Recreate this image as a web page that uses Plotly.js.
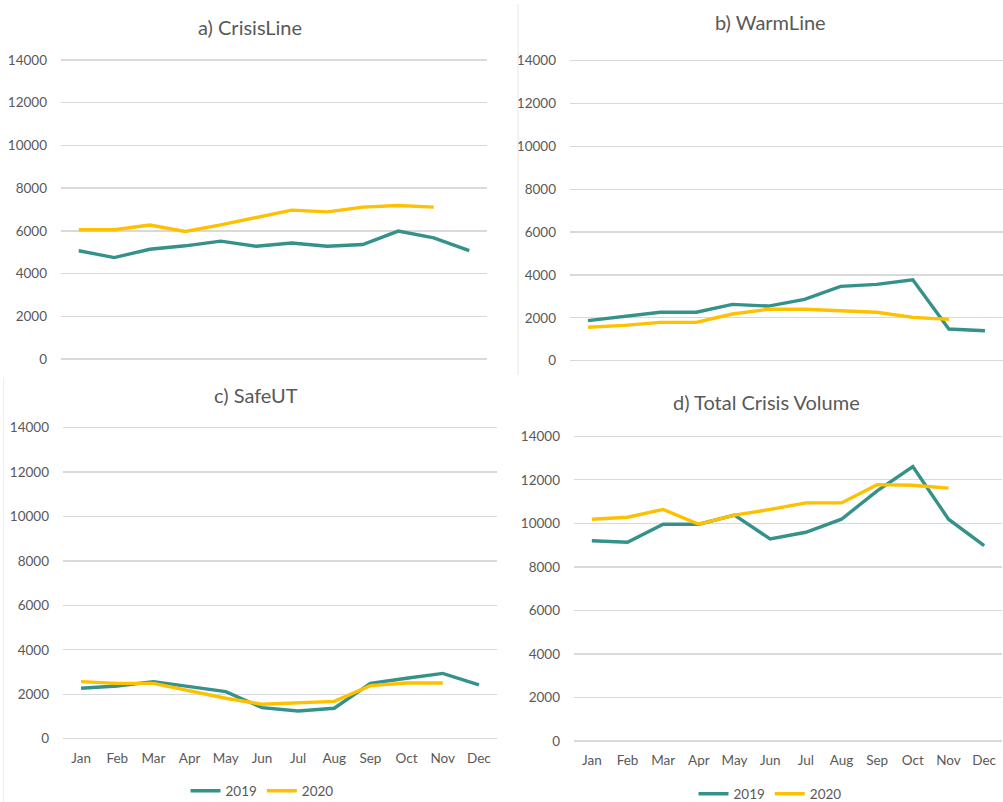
<!DOCTYPE html>
<html>
<head>
<meta charset="utf-8">
<script src="https://cdn.plot.ly/plotly-3.0.1.min.js"></script>
<style>html,body{margin:0;padding:0;background:#fff;}#chart{width:1003px;height:802px;}</style>
</head>
<body>
<div id="chart"></div>
<script>
const months = ["Jan","Feb","Mar","Apr","May","Jun","Jul","Aug","Sep","Oct","Nov","Dec"];
const seriesNames = ["2019","2020"];
const panelTitles = ["a) CrisisLine","b) WarmLine","c) SafeUT","d) Total Crisis Volume"];

const crisis2019 = [5070,4750,5140,5300,5520,5280,5430,5280,5360,5990,5670,5070];
const crisis2020 = [6050,6050,6270,5970,6280,6640,6970,6890,7110,7190,7110];

const warm2019 = [1870,2050,2260,2260,2630,2550,2860,3470,3560,3780,1480,1400];
const warm2020 = [1560,1650,1790,1790,2180,2400,2400,2320,2260,2020,1930];

const safe2019 = [2270,2370,2570,2340,2120,1400,1250,1370,2490,2720,2940,2420];
const safe2020 = [2570,2490,2490,2150,1820,1550,1610,1680,2390,2510,2510];

const total2019 = [9200,9130,9960,9960,10380,9280,9590,10190,11490,12610,10190,8980];
const total2020 = [10190,10280,10640,9960,10380,10640,10940,10940,11780,11750,11620];

const yTicks = [0,2000,4000,6000,8000,10000,12000,14000];

const C19 = "#35928B", C20 = "#FFC000", TXT = "#595959", GRID = "#D9D9D9";
const W = 1003, H = 802;
const FONT = "Lato, 'Open Sans', sans-serif";
const YMAX = 14000, PADV = 80;

const panels = [
  {s19: crisis2019, s20: crisis2020, px:[61,487], py:[60,359], labels:false, legend:null},
  {s19: warm2019, s20: warm2020, px:[570,1005], py:[60.7,360.7], labels:false, legend:null},
  {s19: safe2019, s20: safe2020, px:[63,497], py:[427.7,738.7], labels:true, legend:"legend"},
  {s19: total2019, s20: total2020, px:[574,1002], py:[436.3,741], labels:true, legend:"legend2"}
];

const data = [];
const layout = {
  width: W, height: H,
  margin: {l:0, r:0, t:0, b:0, autoexpand:false},
  paper_bgcolor: "#fff", plot_bgcolor: "#fff",
  font: {family: FONT, color: TXT, size: 13.5},
  annotations: [], shapes: [],
  showlegend: true
};

panels.forEach((p, i) => {
  const n = i === 0 ? "" : String(i+1);
  const xa = "x" + n, ya = "y" + n;
  [ [p.s19, C19, seriesNames[0]], [p.s20, C20, seriesNames[1]] ].forEach(([vals, col, nm]) => {
    const tr = {
      type: "scatter", mode: "lines",
      x: months.slice(0, vals.length), y: vals,
      name: nm, xaxis: xa, yaxis: ya,
      line: {color: col, width: 3.4},
      hoverinfo: "skip",
      showlegend: !!p.legend
    };
    if (p.legend) tr.legend = p.legend;
    data.push(tr);
  });
  const x0 = Math.max(0, p.px[0]/W), x1 = Math.min(1, p.px[1]/W);
  const pad = PADV * (p.py[1] - p.py[0]) / YMAX;
  const top = p.py[0] - pad, bot = p.py[1] + pad;
  layout["xaxis" + n] = {
    domain: [x0, x1], anchor: ya,
    type: "category", categoryorder: "array", categoryarray: months,
    range: [-0.5, 11.5],
    showgrid: false, zeroline: false, showline: false,
    showticklabels: p.labels, ticks: "",
    ticklabelstandoff: 8,
    tickfont: {family: FONT, color: TXT, size: 13.5},
    fixedrange: true
  };
  layout["yaxis" + n] = {
    domain: [1 - bot/H, 1 - top/H], anchor: xa,
    range: [-PADV, YMAX + PADV],
    tickvals: yTicks, ticktext: yTicks.map(String),
    showgrid: true, gridcolor: GRID, gridwidth: 1.3,
    zeroline: false, showline: false, ticks: "",
    ticklabelstandoff: 13,
    tickfont: {family: FONT, color: TXT, size: 13.5},
    fixedrange: true
  };
  const ty = [27, 22, 395, 402][i];
  const tx = [250, 770, 256, 766][i];
  layout.annotations.push({
    text: panelTitles[i], xref: "paper", yref: "paper",
    x: tx / W, y: 1 - ty / H, xanchor: "center", yanchor: "middle",
    showarrow: false, font: {family: FONT, size: 20, color: TXT}
  });
});

const legendBase = {
  orientation: "h", xref: "paper", yref: "paper",
  xanchor: "center", yanchor: "middle",
  font: {family: FONT, size: 13.5, color: TXT},
  bgcolor: "rgba(0,0,0,0)", itemwidth: 30, tracegroupgap: 0
};
layout.legend = Object.assign({}, legendBase, {x: 262 / W, y: 1 - 791 / H});
layout.legend2 = Object.assign({}, legendBase, {x: 770 / W, y: 1 - 794 / H});

layout.shapes.push(
  {type:"line", xref:"paper", yref:"paper", x0:518/W, x1:518/W, y0:1-4/H, y1:1-375/H, line:{color:"#E6E6E6", width:1}},
  {type:"line", xref:"paper", yref:"paper", x0:3.5/W, x1:3.5/W, y0:1-377/H, y1:0, line:{color:"#EEEEEE", width:1}}
);

Plotly.newPlot("chart", data, layout, {displayModeBar: false, staticPlot: true});
</script>
</body>
</html>
